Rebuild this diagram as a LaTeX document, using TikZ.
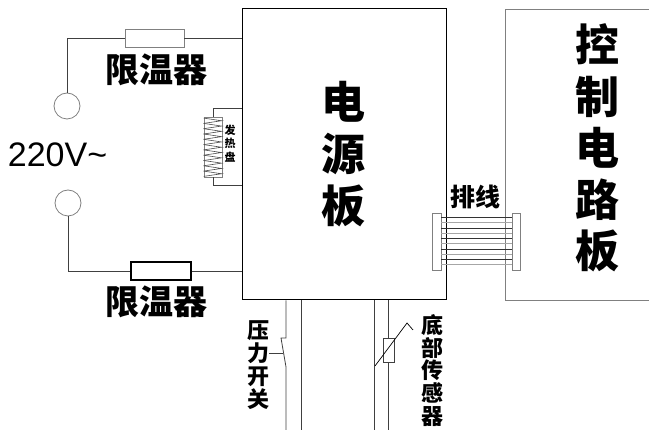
\documentclass[tikz,border=0pt]{standalone}
\usepackage{fontspec}
\setmainfont{Liberation Sans}
\newfontfamily\cjk{Noto Sans CJK SC}

\tikzset{wire/.style={draw=black!75, line width=0.8pt}}

\begin{document}
\begin{tikzpicture}[x=1pt, y=-1pt, every node/.style={draw, rectangle, inner sep=0pt, line width=0.8pt},
	txt/.style={draw=none, align=center, font=\cjk\bfseries}]
			\useasboundingbox (0,0) rectangle (649,430);
			
			\node[minimum width=204pt, minimum height=291pt, line width=1pt] (PS) at (344,154.5) {};
			\node[minimum width=184pt, minimum height=291pt, draw=gray] (CB) at (597,154.5) {};
			\node[txt, font=\cjk\bfseries\fontsize{44}{52}\selectfont] (PStxt) at (343,154) {电\\源\\板};
			\node[txt, font=\cjk\bfseries\fontsize{44}{51.5}\selectfont] (CBtxt) at (597,148) {控\\制\\电\\路\\板};
			
			\node[minimum width=59pt, minimum height=18pt, draw=gray] (L1) at (154.5,38) {};
			\node[minimum width=60pt, minimum height=18pt, line width=1.2pt] (L2) at (161,271) {};
			\node[circle, minimum size=26pt, draw=gray] (S1) at (67,106) {};
			\node[circle, minimum size=26pt, draw=gray] (S2) at (68,203) {};
			\node[txt, font=\cjk\bfseries\fontsize{34}{34}\selectfont] (L1txt) at (156,70) {限温器};
			\node[txt, font=\cjk\bfseries\fontsize{34}{34}\selectfont] (L2txt) at (156,302) {限温器};
			\node[draw=none, font=\fontsize{34}{34}\selectfont] (V) at (57.5,155) {220V\char`~};
			
			\draw[wire] (L1.east) -- (L1 -| PS.west);
			\draw[wire] (L1.west) -| (S1.north);
			\draw[wire] (S2.south) |- (L2.west);
			\draw[wire] (L2.east) -- (L2 -| PS.west);
			
			\node[minimum width=18pt, minimum height=60pt, draw=gray] (H) at (213,147) {};
			\foreach \i in {0,...,10}
				\draw[black!70, line width=0.6pt] (H.north west) ++(0,1.5+5.3*\i) -- ++(18,2.65) -- ++(-18,2.65);
			\node[txt, font=\cjk\bfseries\fontsize{11}{13.5}\selectfont] (Htxt) at (230,143.5) {发\\热\\盘};
			\coordinate (Ht) at (242,108);
			\coordinate (Hb) at (242,185);
			\draw[wire] (H.north) |- (Ht);
			\draw[wire] (H.south) |- (Hb);
			
			\node[minimum width=9pt, minimum height=57pt, draw=gray] (J1) at (436.5,241.5) {};
			\node[minimum width=8pt, minimum height=57pt, draw=gray] (J2) at (516,241.5) {};
			\foreach \i/\c in {0/black!80, 1/gray!70, 2/black!80, 3/gray!70, 4/black!80, 5/gray!70, 6/black!80, 7/gray!70, 8/black!80, 9/gray!70} {
				\path (J1.north east) ++(0,5+5.22*\i) coordinate (r\i);
				\draw[draw=\c, line width=0.8pt] (r\i) -- (r\i -| J2.west);
			}
			\node[txt, font=\cjk\bfseries\fontsize{25}{25}\selectfont] (Jtxt) at (475,197) {排线};
			
			\coordinate (btm) at (0,430);
			\coordinate (sw1) at (286,338);
			\coordinate (sw2) at (281,338);
			\coordinate (sw3) at (286,367);
			\coordinate (w2) at (301,430);
			\coordinate (w3) at (374,430);
			\draw[wire] (PS.south -| sw1) -- (sw1) -- (sw2) -- (sw3) -- (sw3 |- btm);
			\draw[wire] (PS.south -| w2) -- (w2);
			\node[txt, font=\cjk\bfseries\fontsize{22}{23}\selectfont] (SWtxt) at (258,365.5) {压\\力\\开\\关};
			\coordinate (tk) at (283,353);
			\draw[wire] (tk) -- (tk -| SWtxt.east);
			
			\node[minimum width=11pt, minimum height=24pt, draw=black!75] (NTC) at (388.5,350) {};
			\draw[wire] (PS.south -| w3) -- (w3);
			\draw[wire] (PS.south -| NTC) -- (NTC.north);
			\draw[wire] (NTC.south) -- (NTC |- btm);
			\coordinate (d1) at (375,366);
			\coordinate (d2) at (407,323);
			\coordinate (d3) at (413,330);
			\draw[black, line width=0.7pt] (d1) -- (d2) -- (d3);
			\node[txt, font=\cjk\bfseries\fontsize{22}{22.7}\selectfont] (NTCtxt) at (432,370.5) {底\\部\\传\\感\\器};
		\end{tikzpicture}
\end{document}
